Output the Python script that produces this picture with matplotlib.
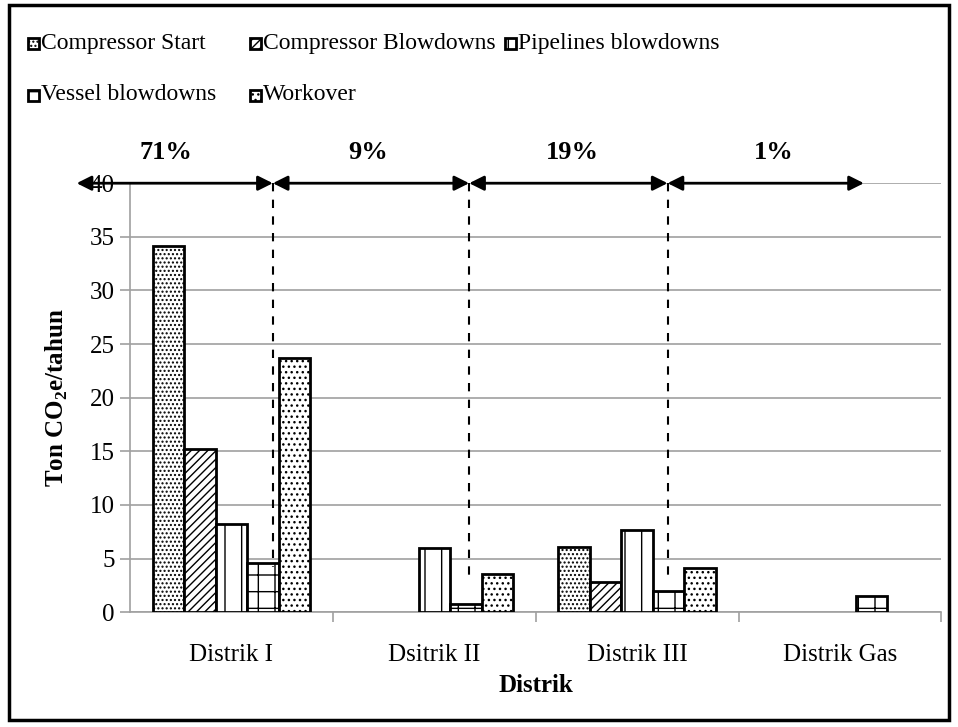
import numpy as np
import matplotlib
matplotlib.use("Agg")
from matplotlib import pyplot as plt
from matplotlib.patches import Rectangle

plt.rcParams['font.family'] = ['Liberation Serif', 'DejaVu Serif']
plt.rcParams['mathtext.fontset'] = 'custom'
plt.rcParams['mathtext.rm'] = 'Liberation Serif'
plt.rcParams['mathtext.bf'] = 'Liberation Serif:bold'
plt.rcParams['hatch.linewidth'] = 1.0

districts = ["Distrik I", "Dsitrik II", "Distrik III", "Distrik Gas"]
sources = ["Compressor Start", "Compressor Blowdowns", "Pipelines blowdowns",
           "Vessel blowdowns", "Workover"]
compressor_start = [34.1, 0, 6.1, 0]
compressor_blowdowns = [15.2, 0, 2.8, 0]
pipelines_blowdowns = [8.2, 6.0, 7.7, 0]
vessel_blowdowns = [4.6, 0.8, 2.0, 1.5]
workover = [23.7, 3.6, 4.1, 0]
shares = ["71%", "9%", "19%", "1%"]

series = [compressor_start, compressor_blowdowns, pipelines_blowdowns,
          vessel_blowdowns, workover]
hatches = ["....", "////", "|", "+", "..."]

# arrow span boundaries (in category units) and dashed divider ends
span_edges = [-0.763, 0.204, 1.172, 2.150, 3.118]
divider_ends = [4.2, 2.8, 2.8]
share_x = [-0.324, 0.674, 1.681, 2.674]

# legend slots in pixels (left of marker, row centre)
leg_pos = [(28, 43), (250, 43), (505, 43), (28, 95), (250, 95)]

W, H = 958, 727
fig = plt.figure(figsize=(W / 100, H / 100), dpi=100)
ax = fig.add_axes([0.1357, 0.158, 0.847, 0.590])

x = np.arange(len(districts))
w = 0.1556
for i, (vals, h, lab) in enumerate(zip(series, hatches, sources)):
    vals = np.array(vals, dtype=float)
    heights = np.where(vals > 0, vals, np.nan)
    ax.bar(x + (i - 2) * w, heights, w, color="white", edgecolor="black",
           linewidth=2, hatch=h, label=lab, zorder=3)

ax.set_ylim(0, 40)
ax.set_xlim(-0.5, 3.5)
ax.set_yticks(range(0, 41, 5))
ax.grid(axis="y", color="#a0a0a0", linewidth=1.2, zorder=0)
ax.set_xticks(x)
ax.set_xticklabels(districts, fontsize=18)
ax.set_xticks([0.5, 1.5, 2.5, 3.5], minor=True)
ax.tick_params(axis="x", which="major", length=0, pad=23)
ax.tick_params(axis="x", which="minor", length=7, color="#a0a0a0", width=1.2)
ax.tick_params(axis="y", labelsize=18, length=7, color="#a0a0a0", width=1.2, pad=4)
for s in ["top", "right"]:
    ax.spines[s].set_visible(False)
for s in ["left", "bottom"]:
    ax.spines[s].set_color("#a0a0a0")
    ax.spines[s].set_linewidth(1.2)

ax.set_ylabel(r"Ton CO$_\mathbf{2}$e/tahun", fontsize=18, fontweight="bold", labelpad=14)
ax.set_xlabel("Distrik", fontsize=18, fontweight="bold", labelpad=6)

# share arrows
for a, b in zip(span_edges[:-1], span_edges[1:]):
    ax.annotate("", xy=(b, 40), xytext=(a, 40), xycoords="data",
                arrowprops=dict(arrowstyle="<|-|>", color="black", lw=2,
                                mutation_scale=22, shrinkA=0, shrinkB=0),
                annotation_clip=False, zorder=5)
for xd, yend in zip(span_edges[1:4], divider_ends):
    ax.plot([xd, xd], [40, yend], color="black", linestyle=(0, (4, 4)),
            linewidth=1.5, zorder=4, clip_on=False)
for xs, t in zip(share_x, shares):
    ax.text(xs, 42.9, t, ha="center", va="center", fontsize=19,
            fontweight="bold", clip_on=False)

# legend, laid out like the source (row-wise slots)
msize = 11
for (px, py), lab, h in zip(leg_pos, sources, hatches):
    fig.add_artist(Rectangle((px / W, 1 - (py + msize / 2) / H), msize / W, msize / H,
                             transform=fig.transFigure, facecolor="white",
                             edgecolor="black", linewidth=2, hatch=h))
    fig.text((px + msize + 2) / W, 1 - py / H, lab, fontsize=17,
             ha="left", va="center")

fig.add_artist(Rectangle((0.009, 0.01), 0.982, 0.983, transform=fig.transFigure,
                         fill=False, edgecolor="black", linewidth=2.5))

fig.savefig("out.png", dpi=100)
